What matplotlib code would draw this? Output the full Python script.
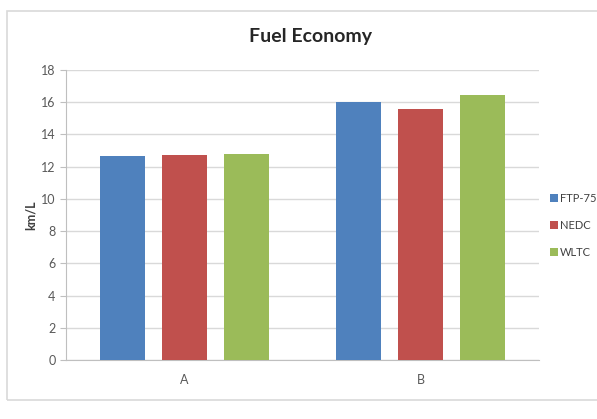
import matplotlib.pyplot as plt
import matplotlib.patches as mpatches
import numpy as np

categories = ['A', 'B']
series = ['FTP-75', 'NEDC', 'WLTC']
ftp75 = [12.65, 16.0]
nedc = [12.7, 15.6]
wltc = [12.8, 16.45]
colors = ['#4F81BD', '#C0504D', '#9BBB59']

plt.rcParams['font.family'] = ['Lato', 'DejaVu Sans']

fig = plt.figure(figsize=(5.97, 4.19), dpi=100)
ax = fig.add_axes([0.1106, 0.1408, 0.7924, 0.6922])

x = np.arange(len(categories))
width = 0.19
step = 0.262
for i, (vals, name) in enumerate(zip([ftp75, nedc, wltc], series)):
    ax.bar(x + (i - 1) * step, vals, width, color=colors[i], label=name, zorder=3)

ax.set_xlim(-0.5, 1.5)
ax.set_ylim(0, 18)
ax.set_yticks(range(0, 19, 2))
ax.set_xticks(x)
ax.set_xticklabels(categories)
ax.yaxis.grid(True, color='#D9D9D9', linewidth=1, zorder=0)
for s in ['top', 'right']:
    ax.spines[s].set_visible(False)
ax.spines['left'].set_color('#BFBFBF')
ax.spines['bottom'].set_color('#BFBFBF')
ax.tick_params(axis='y', colors='#BFBFBF', labelcolor='#595959', labelsize=9, length=4)
ax.tick_params(axis='x', length=0, labelcolor='#595959', labelsize=9, pad=10)
ax.set_ylabel('km/L', fontsize=9, fontweight='bold', color='#404040', labelpad=3)

fig.text(0.52, 0.912, 'Fuel Economy', ha='center', va='center', fontsize=14,
         fontweight='bold', color='#262626')

ax.legend(loc='upper left', bbox_to_anchor=(0.921, 0.54), bbox_transform=fig.transFigure,
          frameon=False, fontsize=8, handlelength=0.7, handleheight=0.7,
          handletextpad=0.2, labelspacing=1.45, borderaxespad=0, borderpad=0,
          labelcolor='#404040')

border = mpatches.Rectangle((7 / 597, 1 - 400 / 419), 1.0, (400 - 11) / 419,
                            transform=fig.transFigure, fill=False,
                            edgecolor='#D9D9D9', linewidth=1.2)
fig.patches.append(border)

fig.savefig('out.png', dpi=100)
